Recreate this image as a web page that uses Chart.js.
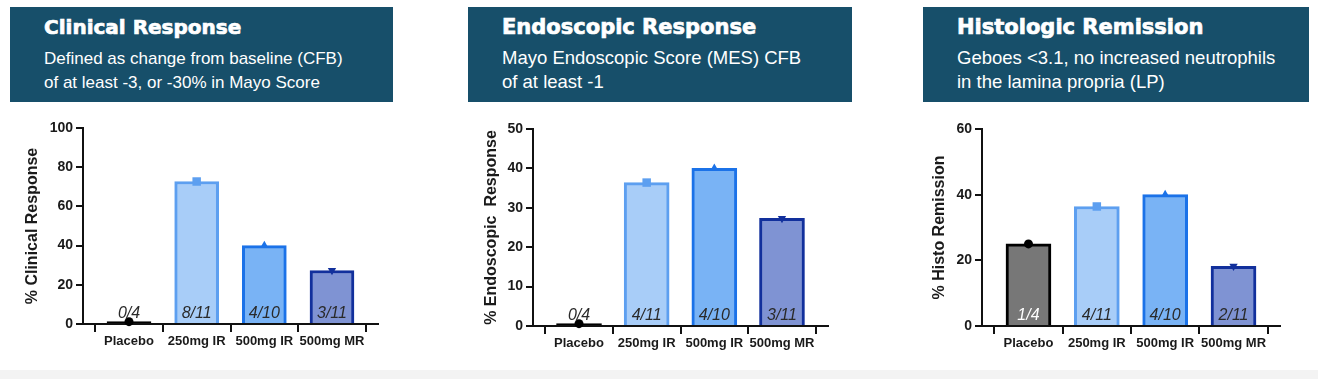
<!DOCTYPE html>
<html>
<head>
<meta charset="utf-8">
<script src="https://cdn.jsdelivr.net/npm/chart.js@4.4.1/dist/chart.umd.min.js"></script>
<style>
  html, body { margin: 0; padding: 0; }
  body { width: 1318px; height: 379px; background: #fff; position: relative; overflow: hidden; font-family: 'Liberation Sans', Arial, sans-serif; }
  .strip { position: absolute; left: 0; top: 370px; width: 1318px; height: 9px; background: #f3f3f3; }
  .card { position: absolute; top: 7px; height: 363px; background: #fff; }
  .head { position: absolute; left: 0; top: 0; right: 0; height: 95px; background: #174f6a; color: #fff; }
  .head h1 { position: absolute; left: 34px; top: 8px; margin: 0; font: bold 20px/24px 'DejaVu Sans', sans-serif; white-space: nowrap; -webkit-text-stroke: 0.7px #fff; }
  .head p { position: absolute; left: 34px; top: 40px; margin: 0; font: 17px/24px 'Liberation Sans', Arial, sans-serif; white-space: nowrap; }
  .wide h1 { font-size: 21px; top: 7.7px; }
  .wide p { font-size: 18.5px; top: 38.6px; }
  canvas { position: absolute; left: 0; top: 95px; }
</style>
</head>
<body>
<div class="strip"></div>

<div class="card" style="left:10px;width:383px">
  <div class="head"><h1>Clinical Response</h1><p>Defined as change from baseline (CFB)<br>of at least -3, or -30% in Mayo Score</p></div>
  <canvas id="clinical" width="383" height="268"></canvas>
</div>
<div class="card" style="left:468px;width:384px">
  <div class="head wide"><h1>Endoscopic Response</h1><p>Mayo Endoscopic Score (MES) CFB<br>of at least -1</p></div>
  <canvas id="endo" width="384" height="268"></canvas>
</div>
<div class="card" style="left:923px;width:386px">
  <div class="head wide"><h1>Histologic Remission</h1><p>Geboes &lt;3.1, no increased neutrophils<br>in the lamina propria (LP)</p></div>
  <canvas id="histo" width="386" height="268"></canvas>
</div>

<script>
const groups = ['Placebo', '250mg IR', '500mg IR', '500mg MR'];

const clinicalPct = [1.2, 72.7, 40, 27.3];
const clinicalN = ['0/4', '8/11', '4/10', '3/11'];
const endoPct = [0.6, 36.4, 40, 27.3];
const endoN = ['0/4', '4/11', '4/10', '3/11'];
const histoPct = [25, 36.4, 40, 18.2];
const histoN = ['1/4', '4/11', '4/10', '2/11'];

const clinicalAxis = [0, 100, 20];   // min, max, step
const endoAxis = [0, 50, 10];
const histoAxis = [0, 60, 20];

const fills = ['#777777', '#a8cdf8', '#79b3f5', '#7f93d3'];
const borders = ['#000000', '#5d9ff0', '#1b72e8', '#12309c'];
const markerStyles = ['circle', 'rect', 'triangle', 'triangle'];
const markerRotation = [0, 0, 0, 180];
const markerSizes = [4.5, 6, 4.8, 4.8];
const markerColors = ['#000000', '#5d9ff0', '#1b72e8', '#12309c'];

Chart.defaults.font.family = "'Liberation Sans', Arial, sans-serif";
Chart.defaults.color = '#1a1a1a';

// italic n/N labels sitting just above the baseline of each bar
const fractionLabels = {
  id: 'fractionLabels',
  afterDatasetsDraw(chart, args, opts) {
    const { ctx, scales: { x, y } } = chart;
    ctx.save();
    ctx.font = "italic 16px 'Liberation Sans', Arial, sans-serif";
    ctx.textAlign = 'center';
    ctx.textBaseline = 'alphabetic';
    opts.labels.forEach((t, i) => {
      ctx.fillStyle = opts.colors[i];
      ctx.fillText(t, x.getPixelForValue(i), y.getPixelForValue(0) - 6);
    });
    ctx.restore();
  }
};

function makeChart(id, cfg) {
  const points = cfg.values.map((v, i) => ({ x: i, y: v }));
  return new Chart(document.getElementById(id), {
    type: 'bar',
    data: {
      datasets: [{
        type: 'scatter',
        data: points,
        pointStyle: markerStyles,
        rotation: markerRotation,
        pointRadius: markerSizes,
        pointBackgroundColor: markerColors,
        pointBorderWidth: 0,
        clip: false,
        order: 0
      }, {
        type: 'bar',
        data: points,
        backgroundColor: cfg.fills,
        borderColor: borders,
        borderWidth: 3,
        barThickness: cfg.barW,
        clip: false,
        order: 1
      }]
    },
    plugins: [fractionLabels],
    options: {
      responsive: false,
      animation: false,
      layout: { padding: { left: 0, top: cfg.top, right: cfg.rightPad, bottom: 0 } },
      plugins: {
        legend: { display: false },
        tooltip: { enabled: false },
        fractionLabels: { labels: cfg.labels, colors: cfg.labelColors }
      },
      scales: {
        x: {
          type: 'linear',
          min: -0.68,
          max: 3.68,
          offset: false,
          afterBuildTicks: s => { s.ticks = groups.map((g, i) => ({ value: i })); },
          afterFit: s => { s.height = cfg.bottomSpace; },
          grid: { display: true, drawOnChartArea: false, tickLength: 8, lineWidth: 2, color: '#111' },
          border: { display: true, color: '#111', width: 2 },
          ticks: {
            callback: v => groups[v],
            autoSkip: false,
            maxRotation: 0,
            padding: 2,
            color: '#1a1a1a',
            font: { size: 13, weight: 'bold' }
          }
        },
        y: {
          min: cfg.axis[0],
          max: cfg.axis[1],
          afterFit: s => { s.width = cfg.left; },
          grid: { drawOnChartArea: false, tickLength: 7, lineWidth: 2, color: '#111' },
          border: { color: '#111', width: 2 },
          ticks: { stepSize: cfg.axis[2], padding: 3, color: '#1a1a1a', font: { size: 14, weight: 'bold' } },
          title: {
            display: true,
            text: cfg.title,
            color: '#1a1a1a',
            font: { size: 16, weight: 'bold' },
            padding: { top: cfg.titlePad, bottom: 0 }
          }
        }
      }
    }
  });
}

makeChart('clinical', {
  values: clinicalPct, labels: clinicalN, axis: clinicalAxis,
  title: '% Clinical Response',
  fills: ['#000000', fills[1], fills[2], fills[3]],
  labelColors: ['#2a2a2a', '#2a2a2a', '#2a2a2a', '#2a2a2a'],
  left: 73, top: 26, rightPad: 15, bottomSpace: 46, titlePad: 13.4, barW: 44
});
makeChart('endo', {
  values: endoPct, labels: endoN, axis: endoAxis,
  title: '% Endoscopic  Response',
  fills: ['#000000', fills[1], fills[2], fills[3]],
  labelColors: ['#2a2a2a', '#2a2a2a', '#2a2a2a', '#2a2a2a'],
  left: 65, top: 27, rightPad: 24, bottomSpace: 44, titlePad: 14.4, barW: 45
});
makeChart('histo', {
  values: histoPct, labels: histoN, axis: histoAxis,
  title: '% Histo Remission',
  fills: fills,
  labelColors: ['#ffffff', '#2a2a2a', '#2a2a2a', '#2a2a2a'],
  left: 59, top: 27, rightPad: 29, bottomSpace: 44, titlePad: 7.4, barW: 45
});
</script>
</body>
</html>
